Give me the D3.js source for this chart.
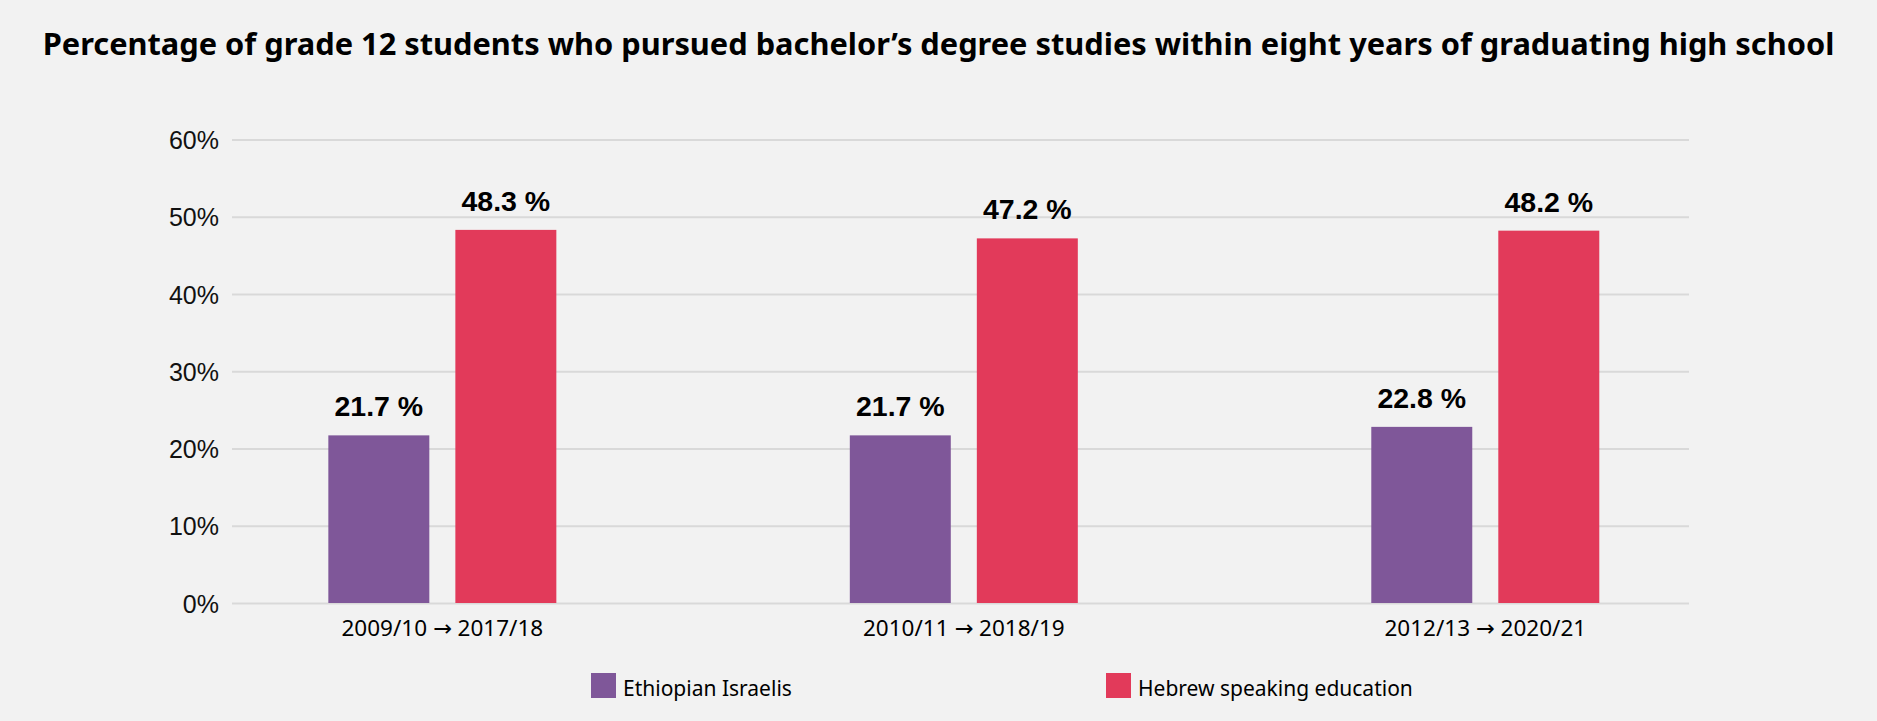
<!DOCTYPE html>
<html>
<head>
<meta charset="utf-8">
<script src="https://cdn.jsdelivr.net/npm/d3@7"></script>
<style>
  html, body { margin: 0; padding: 0; background: #F2F2F2; }
  svg { display: block; }
</style>
</head>
<body>
<svg id="chart" width="1877" height="721"></svg>
<script>
// Cohorts: grade 12 year -> year eight years later
const categories = ["2009/10 \u2192 2017/18", "2010/11 \u2192 2018/19", "2012/13 \u2192 2020/21"];
const seriesNames = ["Ethiopian Israelis", "Hebrew speaking education"];
const ethiopianValues = [21.7, 21.7, 22.8];
const hebrewValues = [48.3, 47.2, 48.2];
const yTicks = [0, 10, 20, 30, 40, 50, 60];
const titleText = "Percentage of grade 12 students who pursued bachelor\u2019s degree studies within eight years of graduating high school";

const colors = { "Ethiopian Israelis": "#7F5799", "Hebrew speaking education": "#E23A5A" };

const W = 1877, H = 721;
const plot = { left: 232, right: 1689, top: 139.5, bottom: 603 };

const svg = d3.select("#chart");
svg.append("rect").attr("width", W).attr("height", H).attr("fill", "#F2F2F2");

// Title, sized to span the chart width
const title = svg.append("text")
  .attr("x", W / 2).attr("y", 55)
  .attr("text-anchor", "middle")
  .attr("font-family", "'Noto Sans', sans-serif")
  .attr("font-weight", "bold")
  .attr("font-size", 31)
  .attr("fill", "#000")
  .text(titleText);
const tw = title.node().getComputedTextLength();
title.attr("font-size", 31 * 1792 / tw);

// Scales
const y = d3.scaleLinear().domain([0, 60]).range([plot.bottom, plot.top]);
const x0 = d3.scalePoint().domain(categories)
  .range([plot.left, plot.right]).padding(0.397).align(0.508);
const x1 = d3.scaleBand().domain(seriesNames).range([-114, 114]).paddingInner(0.205);

// Gridlines + y tick labels
const yAxis = d3.axisLeft(y)
  .tickValues(yTicks)
  .tickSize(-(plot.right - plot.left))
  .tickPadding(13)
  .tickFormat(d => d + "%");
const gy = svg.append("g").attr("transform", `translate(${plot.left},0)`).call(yAxis);
gy.select(".domain").remove();
gy.selectAll(".tick line").attr("stroke", "#D9D9D9").attr("stroke-width", 2);
gy.selectAll(".tick text")
  .attr("font-family", "'Liberation Sans', Arial, sans-serif")
  .attr("font-size", 25)
  .attr("fill", "#111")
  .attr("dy", "0.36em");

// Bars
const rows = categories.map((c, i) => ({
  cat: c,
  values: [
    { key: seriesNames[0], value: ethiopianValues[i] },
    { key: seriesNames[1], value: hebrewValues[i] }
  ]
}));

const groups = svg.append("g").selectAll("g")
  .data(rows).join("g")
  .attr("transform", d => `translate(${x0(d.cat)},0)`);

groups.selectAll("rect")
  .data(d => d.values).join("rect")
  .attr("x", d => x1(d.key))
  .attr("width", x1.bandwidth())
  .attr("y", d => y(d.value))
  .attr("height", d => y(0) - y(d.value))
  .attr("fill", d => colors[d.key]);

// Value labels
groups.selectAll("text.val")
  .data(d => d.values).join("text")
  .attr("class", "val")
  .attr("x", d => x1(d.key) + x1.bandwidth() / 2)
  .attr("y", d => y(d.value) - 19)
  .attr("text-anchor", "middle")
  .attr("font-family", "'Liberation Sans', Arial, sans-serif")
  .attr("font-weight", "bold")
  .attr("font-size", 28.5)
  .attr("fill", "#000")
  .text(d => d.value.toFixed(1) + " %");

// Category labels (the arrow drawn in a face with a long arrow glyph)
const catText = groups.append("text")
  .attr("x", 0).attr("y", 636)
  .attr("text-anchor", "middle")
  .attr("font-family", "'Noto Sans', sans-serif")
  .attr("font-size", 22.5)
  .attr("fill", "#000");
catText.each(function(d) {
  const parts = d.cat.split("\u2192");
  const t = d3.select(this);
  t.append("tspan").text(parts[0]);
  t.append("tspan").attr("font-family", "'DejaVu Sans', sans-serif").text("\u2192");
  t.append("tspan").text(parts[1]);
});

// Legend
const legendX = d3.scaleOrdinal().domain(seriesNames).range([591, 1106]);
const legend = svg.append("g").selectAll("g")
  .data(seriesNames).join("g")
  .attr("transform", d => `translate(${legendX(d)},673)`);
legend.append("rect")
  .attr("width", 25).attr("height", 25)
  .attr("fill", d => colors[d]);
legend.append("text")
  .attr("x", 32).attr("y", 23)
  .attr("font-family", "'Noto Sans', sans-serif")
  .attr("font-size", 21)
  .attr("fill", "#000")
  .text(d => d);
</script>
</body>
</html>
